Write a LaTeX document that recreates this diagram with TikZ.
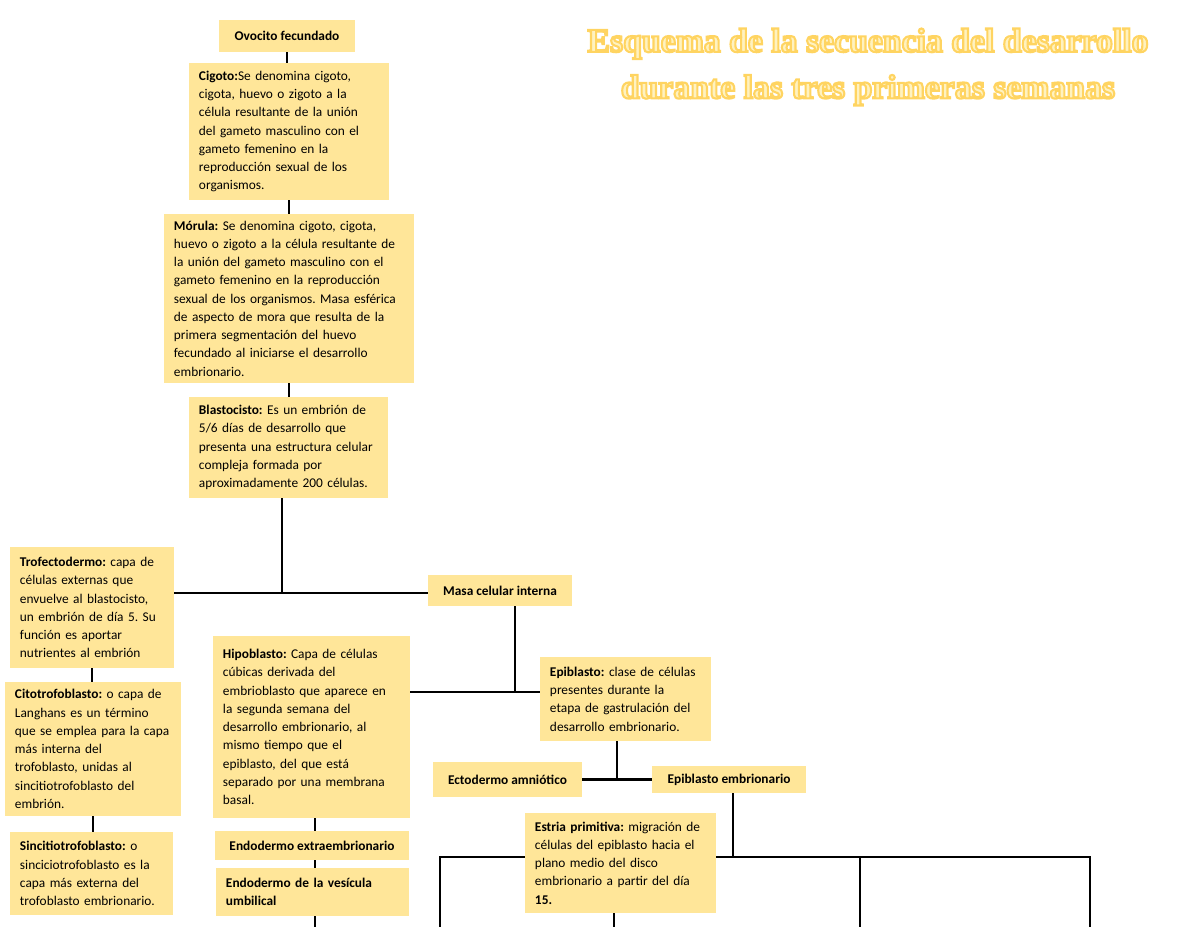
\documentclass[tikz,border=0pt]{standalone}
\usepackage{fontspec}
\setmainfont{Carlito}
\newfontfamily\titlefont{Liberation Serif}
\usetikzlibrary{positioning, calc}

\definecolor{boxfill}{HTML}{FFE699}
\definecolor{titlepale}{HTML}{FFF2C0}

\frenchspacing
% outlined title letters: gold stroke round a pale fill
\newcommand{\outlinedtext}[1]{\special{pdf:code q 2 Tr 1.5 w 1 0.83 0.38 RG}#1\special{pdf:code Q}}

\begin{document}
\begin{tikzpicture}[
        x=0.025cm, y=-0.025cm,
        font=\fontsize{9.5}{13}\selectfont,
        box/.style 2 args={fill=boxfill, align=left, inner xsep=0.25cm, inner ysep=0pt, text width=#1, minimum height=#2},
        tag/.style 2 args={fill=boxfill, align=center, inner sep=0pt, minimum width=#1, minimum height=#2},
        link/.style={line width=2.1pt},
        title/.style={align=center, text=titlepale, font=\titlefont\bfseries\fontsize{24}{33}\selectfont}
    ]
        \useasboundingbox (0,0) rectangle (1200,927);

        % Title
        \node[title] (titletext) at (868,67) {\outlinedtext{Esquema de la secuencia del desarrollo}\\\outlinedtext{durante las tres primeras semanas}};

        % Main column
        \node[tag={3.4cm}{0.8cm}] (ovocito) at (287,36) {\textbf{Ovocito fecundado}};
        \node[box={4.5cm}{3.425cm}] (cigoto) at (289,131.5) {\textbf{Cigoto:}Se denomina cigoto,\\cigota, huevo o zigoto a la\\célula resultante de la unión\\del gameto masculino con el\\gameto femenino en la\\reproducción sexual de los\\organismos.};
        \node[box={5.75cm}{4.225cm}] (morula) at (289,298.5) {\textbf{Mórula:} Se denomina cigoto, cigota,\\huevo o zigoto a la célula resultante de\\la unión del gameto masculino con el\\gameto femenino en la reproducción\\sexual de los organismos. Masa esférica\\de aspecto de mora que resulta de la\\primera segmentación del huevo\\fecundado al iniciarse el desarrollo\\embrionario.};
        \node[box={4.475cm}{2.525cm}] (blasto) at (288.5,447.5) {\textbf{Blastocisto:} Es un embrión de\\5/6 días de desarrollo que\\presenta una estructura celular\\compleja formada por\\aproximadamente 200 células.};
        \draw[link] (ovocito.south) -- (ovocito.south |- cigoto.north);
        \draw[link] (cigoto.south) -- (cigoto.south |- morula.north);
        \draw[link] (morula.south) -- (morula.south |- blasto.north);

        % First split
        \node[box={3.6cm}{3.025cm}] (trofo) at (92,607.5) {\textbf{Trofectodermo:} capa de\\células externas que\\envuelve al blastocisto,\\un embrión de día 5. Su\\función es aportar\\nutrientes al embrión};
        \node[tag={3.6cm}{0.775cm}] (masa) at (500,590.5) {\textbf{Masa celular interna}};
        \coordinate (split1) at (282,593);
        \draw[link] (blasto.south -| split1) -- (split1);
        \draw[link] (trofo.east |- split1) -- (masa.west |- split1);

        % Trophoblast column
        \node[box={3.9cm}{3.35cm}] (cito) at (93,749) {\textbf{Citotrofoblasto:} o capa de\\Langhans es un término\\que se emplea para la capa\\más interna del\\trofoblasto, unidas al\\sincitiotrofoblasto del\\embrión.};
        \node[box={3.575cm}{2.075cm}] (sincit) at (91.5,873.5) {\textbf{Sincitiotrofoblasto:} o\\sinciciotrofoblasto es la\\capa más externa del\\trofoblasto embrionario.};
        \draw[link] (trofo.south) -- (trofo.south |- cito.north);
        \draw[link] (cito.south) -- (cito.south |- sincit.north);

        % Inner cell mass split
        \node[box={4.425cm}{4.55cm}] (hipo) at (311.5,727) {\textbf{Hipoblasto:} Capa de células\\cúbicas derivada del\\embrioblasto que aparece en\\la segunda semana del\\desarrollo embrionario, al\\mismo tiempo que el\\epiblasto, del que está\\separado por una membrana\\basal.};
        \node[box={3.775cm}{2.1cm}] (epi) at (625.5,699) {\textbf{Epiblasto:} clase de células\\presentes durante la\\etapa de gastrulación del\\desarrollo embrionario.};
        \coordinate (split2) at (515,692);
        \draw[link] (masa.south -| split2) -- (split2);
        \draw[link] (hipo.east |- split2) -- (epi.west |- split2);

        % Hypoblast column
        \node[tag={4.85cm}{0.725cm}] (endoext) at (312,845.5) {\textbf{Endodermo extraembrionario}};
        \node[box={4.325cm}{1.2cm}] (endoves) at (312.5,892) {\textbf{Endodermo de la vesícula}\\\textbf{umbilical}};
        \coordinate (endoend) at (315,927);
        \draw[link] (hipo.south -| endoend) -- (endoext.north -| endoend);
        \draw[link] (endoext.south -| endoend) -- (endoves.north -| endoend);
        \draw[link] (endoves.south -| endoend) -- (endoend);

        % Epiblast split
        \node[tag={3.725cm}{0.875cm}] (ecto) at (507.5,779.5) {\textbf{Ectodermo amniótico}};
        \node[tag={3.85cm}{0.675cm}] (epiemb) at (729,779.5) {\textbf{Epiblasto embrionario}};
        \coordinate (split3) at (617,779.5);
        \draw[link] (epi.south -| split3) -- (split3);
        \draw[link] (ecto) -- (epiemb);

        % Primitive streak row
        \node[box={4.275cm}{2.5cm}] (estria) at (620.5,863) {\textbf{Estria primitiva:} migración de\\células del epiblasto hacia el\\plano medio del disco\\embrionario a partir del día\\\textbf{15.}};
        \coordinate (row) at (733,857);
        \coordinate (f1) at (440,857);
        \coordinate (f2) at (860,857);
        \coordinate (f3) at (1090,857);
        \coordinate (f1end) at (440,927);
        \coordinate (f2end) at (860,927);
        \coordinate (f3end) at (1090,927);
        \coordinate (estriaend) at (614,927);
        \draw[link] (epiemb.south -| row) -- (row);
        \draw[link] (estria.west |- f1) -- (f1) -- (f1end);
        \draw[link] (estria.east |- f3) -- (f3) -- (f3end);
        \draw[link] (f2) -- (f2end);
        \draw[link] (estria.south -| estriaend) -- (estriaend);

    \end{tikzpicture}
\end{document}
